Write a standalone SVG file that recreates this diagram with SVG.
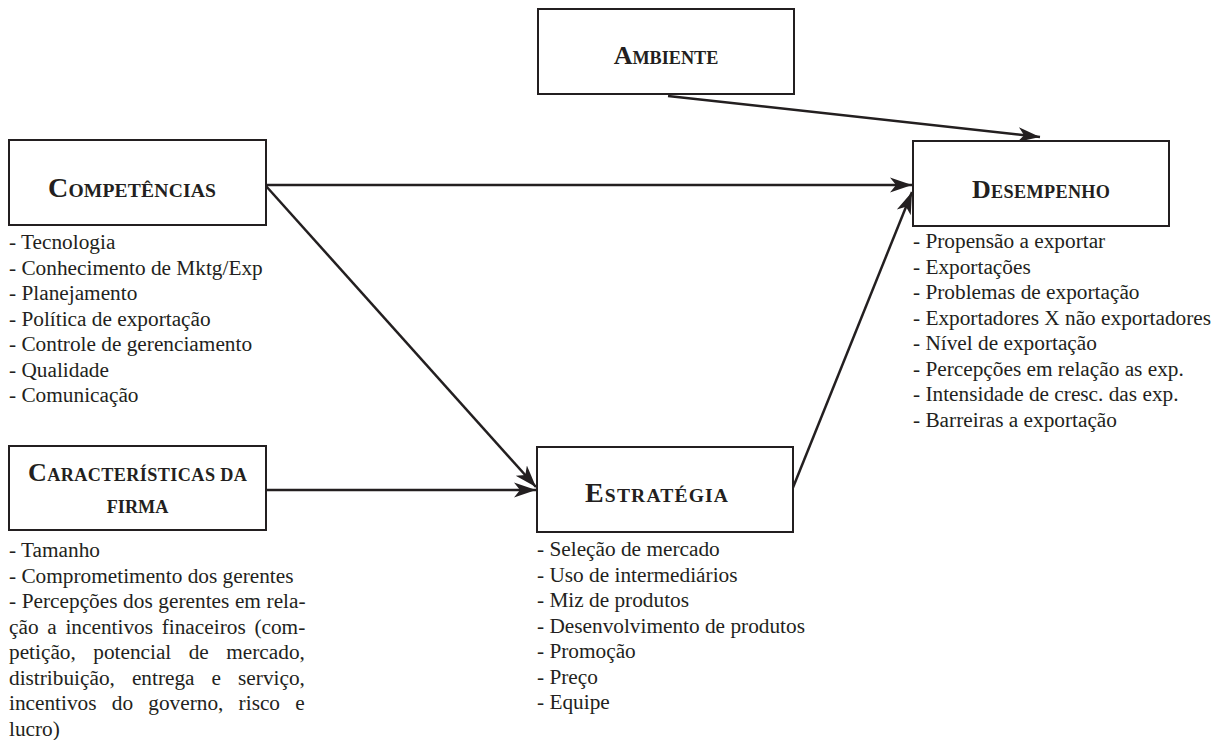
<svg xmlns="http://www.w3.org/2000/svg" width="1224" height="740" viewBox="0 0 1224 740">
<defs>
<style>
.box{fill:#fff;stroke:#231f20;stroke-width:2}
.t{font-family:"Liberation Serif","Times New Roman",serif;font-weight:bold;fill:#231f20;font-size:26px;text-anchor:middle}
.s{font-size:18.2px}
.tb{font-size:28px}
.sb{font-size:19.6px}
.l{font-family:"Liberation Serif","Times New Roman",serif;fill:#231f20;font-size:21.3px}
.c{fill:none;stroke:#231f20;stroke-width:2.5}
</style>
<marker id="ah" markerUnits="userSpaceOnUse" markerWidth="24" markerHeight="18" refX="22" refY="9" orient="auto">
<path d="M0,1.5 L22,9 L0,16.5 L6,9 z" fill="#231f20"/>
</marker>
</defs>
<g id="connectors">
<line class="c" x1="668" y1="96" x2="1040" y2="137" marker-end="url(#ah)"/>
<line class="c" x1="266" y1="185" x2="912" y2="185" marker-end="url(#ah)"/>
<line class="c" x1="266" y1="186" x2="536" y2="487" marker-end="url(#ah)"/>
<line class="c" x1="266" y1="490" x2="536" y2="490" marker-end="url(#ah)"/>
<line class="c" x1="792" y1="490" x2="912" y2="192" marker-end="url(#ah)"/>
</g>
<g id="ambiente">
<rect class="box" x="538" y="9" width="256" height="85"/>
<text class="t" x="666" y="64">A<tspan class="s">MBIENTE</tspan></text>
</g>
<g id="competencias">
<rect class="box" x="9" y="140" width="257" height="85"/>
<text class="t tb" x="132" y="197" textLength="168" lengthAdjust="spacing">C<tspan class="sb">OMPETÊNCIAS</tspan></text>
<text class="l" x="9" y="249">- Tecnologia</text>
<text class="l" x="9" y="274.5">- Conhecimento de Mktg/Exp</text>
<text class="l" x="9" y="300">- Planejamento</text>
<text class="l" x="9" y="325.5">- Política de exportação</text>
<text class="l" x="9" y="351">- Controle de gerenciamento</text>
<text class="l" x="9" y="376.5">- Qualidade</text>
<text class="l" x="9" y="402">- Comunicação</text>
</g>
<g id="caracteristicas">
<rect class="box" x="9" y="446" width="257" height="84"/>
<text class="t" x="137.5" y="481" textLength="219" lengthAdjust="spacing">C<tspan class="s">ARACTERÍSTICAS DA</tspan></text>
<text class="t" x="137.5" y="513"><tspan class="s">FIRMA</tspan></text>
<text class="l" x="9" y="557">- Tamanho</text>
<text class="l" x="9" y="582.5">- Comprometimento dos gerentes</text>
<text class="l" x="9" y="608" word-spacing="0.3">- Percepções dos gerentes em rela-</text>
<text class="l" x="9" y="633.5" word-spacing="3.4">ção a incentivos finaceiros (com-</text>
<text class="l" x="9" y="659" word-spacing="12.1">petição, potencial de mercado,</text>
<text class="l" x="9" y="684.5" word-spacing="11.7">distribuição, entrega e serviço,</text>
<text class="l" x="9" y="710" word-spacing="9.9">incentivos do governo, risco e</text>
<text class="l" x="9" y="735.5">lucro)</text>
</g>
<g id="estrategia">
<rect class="box" x="537" y="447" width="256" height="85"/>
<text class="t tb" x="656.5" y="502" textLength="143" lengthAdjust="spacing">E<tspan class="sb">STRATÉGIA</tspan></text>
<text class="l" x="537" y="556">- Seleção de mercado</text>
<text class="l" x="537" y="581.5">- Uso de intermediários</text>
<text class="l" x="537" y="607">- Miz de produtos</text>
<text class="l" x="537" y="632.5">- Desenvolvimento de produtos</text>
<text class="l" x="537" y="658">- Promoção</text>
<text class="l" x="537" y="683.5">- Preço</text>
<text class="l" x="537" y="709">- Equipe</text>
</g>
<g id="desempenho">
<rect class="box" x="913" y="141" width="256" height="85"/>
<text class="t" x="1041" y="198" textLength="138" lengthAdjust="spacing">D<tspan class="s">ESEMPENHO</tspan></text>
<text class="l" x="913" y="248">- Propensão a exportar</text>
<text class="l" x="913" y="273.5">- Exportações</text>
<text class="l" x="913" y="299">- Problemas de exportação</text>
<text class="l" x="913" y="324.5">- Exportadores X não exportadores</text>
<text class="l" x="913" y="350">- Nível de exportação</text>
<text class="l" x="913" y="375.5">- Percepções em relação as exp.</text>
<text class="l" x="913" y="401">- Intensidade de cresc. das exp.</text>
<text class="l" x="913" y="426.5">- Barreiras a exportação</text>
</g>
</svg>
